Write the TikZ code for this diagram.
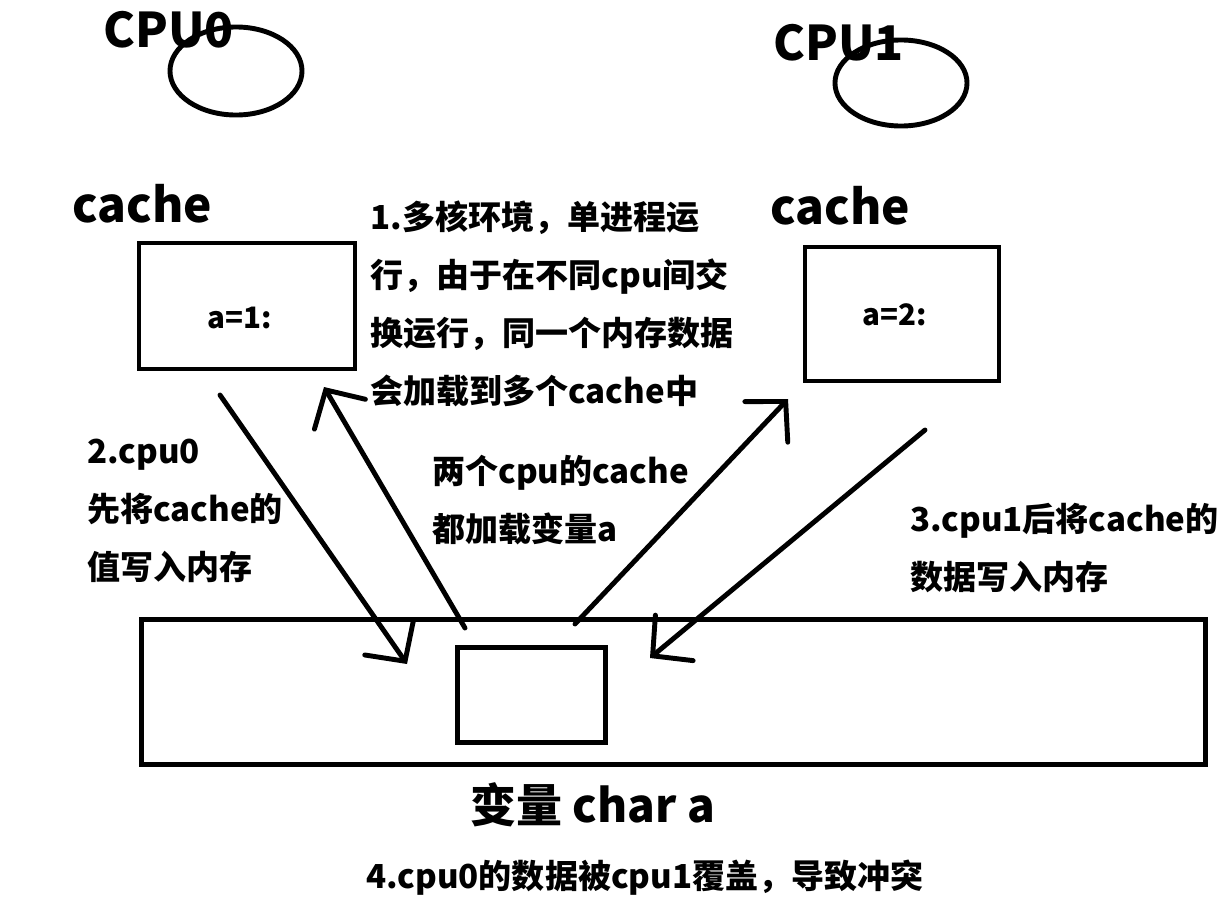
\documentclass[tikz,border=0pt]{standalone}
\usepackage{fontspec}
\setmainfont{Noto Sans CJK SC}
\usetikzlibrary{shapes.geometric,arrows.meta}

\begin{document}
\begin{tikzpicture}[x=0.025cm, y=-0.025cm,
	every node/.style={inner sep=0pt, font=\bfseries},
	big/.style={font=\fontsize{34}{40}\selectfont\bfseries},
	txt/.style={font=\fontsize{23.5}{41.3}\selectfont\bfseries, anchor=west, align=left},
	val/.style={font=\fontsize{21}{24}\selectfont\bfseries},
	core/.style={draw, ellipse, line width=3.5pt, minimum width=3.3cm, minimum height=2.2cm},
	box/.style={draw, rectangle, line width=3.4pt},
	hand/.style={line width=3.5pt, line cap=round, -{Straight Barb[length=20pt, width=42pt, line cap=round]}}]
	\useasboundingbox (0,0) rectangle (1217,901);

	% the two cores
	\node[big, anchor=base west] (cpu0lbl) at (103,48) {CPU0};
	\node[big, anchor=base west] (cpu1lbl) at (773,60) {CPU1};
	\node[core] (cpu0) at (236,71) {};
	\node[core, minimum height=2.15cm] (cpu1) at (901,83) {};

	% caches
	\node[big, anchor=base west] (cache0lbl) at (72,222) {cache};
	\node[big, anchor=base west] (cache1lbl) at (770,224) {cache};
	\node[box, minimum width=5.4cm, minimum height=3.15cm] (cache0) at (247,306) {};
	\node[box, minimum width=4.85cm, minimum height=3.35cm] (cache1) at (902,314) {};
	\node[val] (val0) at (240,318) {a=1:};
	\node[val] (val1) at (895,315) {a=2:};

	% memory
	\node[box, minimum width=26.6cm, minimum height=3.63cm] (mem) at (673.5,692) {};
	\node[box, minimum width=3.7cm, minimum height=2.38cm] (var) at (531.5,695) {};
	\node[font=\fontsize{32.7}{36}\selectfont\bfseries] (varlbl) at (593,805) {变量 char a};

	% notes
	\node[txt] (note1) at (370,304) {1.多核环境，单进程运\\行，由于在不同cpu间交\\换运行，同一个内存数据\\会加载到多个cache中};
	\node[txt] (note2) at (87,511) {2.cpu0\\先将cache的\\值写入内存};
	\node[txt] (notemid) at (432,500) {两个cpu的cache\\都加载变量a};
	\node[txt] (note3) at (910,548) {3.cpu1后将cache的\\数据写入内存};
	\node[font=\fontsize{23.5}{28}\selectfont\bfseries] (note4) at (645,878) {4.cpu0的数据被cpu1覆盖，导致冲突};

	% arrow ends
	\coordinate (a0) at (220,395);
	\coordinate (a1) at (407,664);
	\coordinate (b0) at (465,628);
	\coordinate (b1) at (324,387);
	\coordinate (c0) at (575,624);
	\coordinate (c1) at (788,399);
	\coordinate (d0) at (925,430);
	\coordinate (d1) at (650,658);

	\draw[hand] (a0) -- (a1);
	\draw[hand] (b0) -- (b1);
	\draw[hand] (c0) -- (c1);
	\draw[hand] (d0) -- (d1);
\end{tikzpicture}
\end{document}
